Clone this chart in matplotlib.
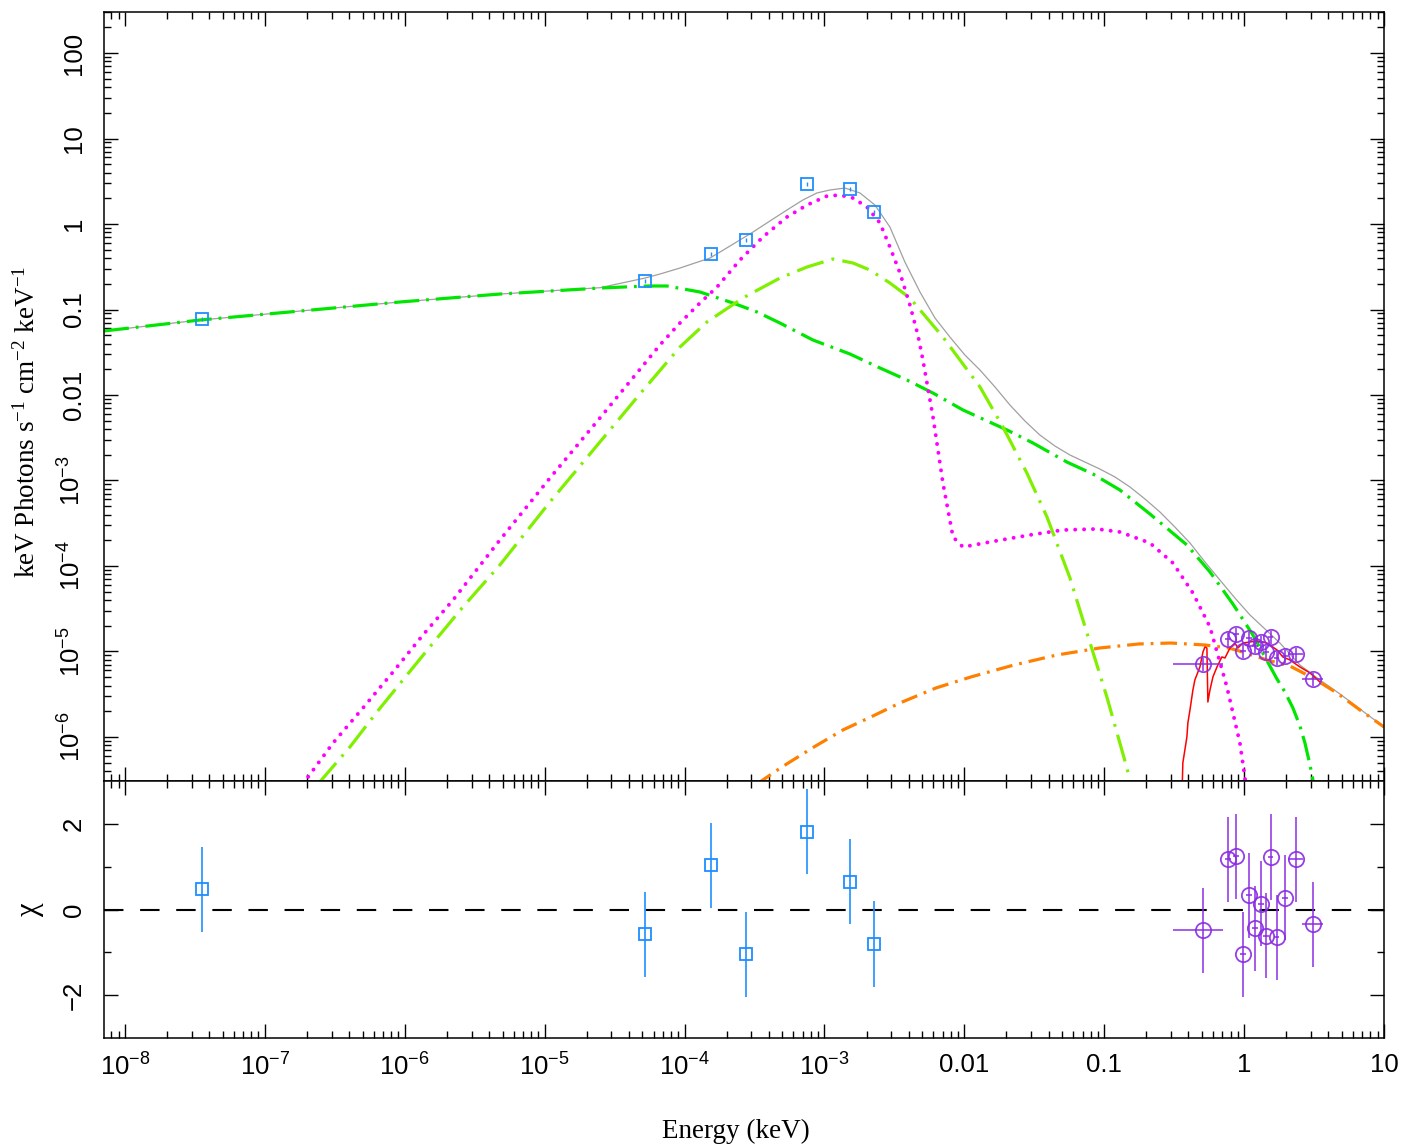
import numpy as np
import matplotlib
matplotlib.use("Agg")
import matplotlib.pyplot as plt
from matplotlib.ticker import FixedLocator, FixedFormatter, LogLocator, NullFormatter

plt.rcParams['font.family'] = ['Liberation Sans', 'DejaVu Sans']
plt.rcParams['mathtext.default'] = 'regular'
plt.rcParams['lines.scale_dashes'] = False

# ---- data ----
# UV/optical points (keV, keV Photons s^-1 cm^-2 keV^-1) and chi residuals
uv_E = [3.55e-8, 5.21e-5, 1.55e-4, 2.75e-4, 7.50e-4, 1.52e-3, 2.26e-3]
uv_F = [0.0774, 0.215, 0.446, 0.65, 2.94, 2.57, 1.38]
uv_chi = [0.47, -0.58, 1.03, -1.05, 1.82, 0.65, -0.80]

# X-ray points
xr_E = [0.507, 0.766, 0.873, 0.98, 1.08, 1.19, 1.32, 1.43, 1.55, 1.71, 1.96, 2.35, 3.10]
xr_F = [7.14e-6, 1.40e-5, 1.60e-5, 1.01e-5, 1.44e-5, 1.16e-5, 1.29e-5,
        9.9e-6, 1.48e-5, 8.4e-6, 8.9e-6, 9.35e-6, 4.77e-6]
xr_lo = [0.197, 0.04, 0.04, 0.05, 0.05, 0.06, 0.06, 0.07, 0.07, 0.08, 0.10, 0.29, 0.51]
xr_hi = [0.198, 0.04, 0.04, 0.05, 0.05, 0.06, 0.06, 0.07, 0.07, 0.08, 0.10, 0.28, 0.56]
xr_chi = [-0.49, 1.17, 1.24, -1.05, 0.33, -0.44, 0.14, -0.61, 1.22, -0.65, 0.28, 1.17, -0.35]

# model components, log10(E) and log10(flux)
total_logE = [-8.150, -7.464, -6.749, -6.034, -5.320, -4.605, -4.283, -4.176, -4.033, -3.926,
              -3.818, -3.675, -3.511, -3.390, -3.268, -3.154, -3.054, -2.961, -2.853, -2.746,
              -2.639, -2.532, -2.425, -2.317, -2.210, -2.103, -1.996, -1.888, -1.781, -1.674,
              -1.567, -1.460, -1.352, -1.245, -1.138, -1.031, -0.923, -0.816, -0.709, -0.602,
              -0.495, -0.387, -0.280, -0.173, -0.066, 0.042, 0.149, 0.256, 0.399, 0.542,
              0.685, 0.828, 1.000]
total_logF = [-1.251, -1.123, -1.018, -0.912, -0.819, -0.745, -0.632, -0.585, -0.515, -0.456,
              -0.398, -0.257, -0.094, 0.035, 0.164, 0.281, 0.363, 0.398, 0.421, 0.363,
              0.222, -0.035, -0.444, -0.795, -1.099, -1.322, -1.532, -1.708, -1.906, -2.117,
              -2.304, -2.468, -2.597, -2.702, -2.784, -2.866, -2.959, -3.076, -3.216, -3.368,
              -3.544, -3.731, -3.953, -4.164, -4.374, -4.573, -4.737, -4.901, -5.158, -5.333,
              -5.497, -5.673, -5.883]

jet_logE = [-8.150, -7.464, -6.749, -6.034, -5.320, -4.605, -4.269, -4.126, -3.890, -3.654,
            -3.482, -3.318, -3.082, -2.818, -2.603, -2.410, -2.224, -2.010, -1.695, -1.510,
            -1.267, -1.081, -0.888, -0.673, -0.409, -0.244, -0.080, 0.063, 0.235, 0.292,
            0.349, 0.399, 0.435, 0.471, 0.499]
jet_logF = [-1.251, -1.123, -1.018, -0.912, -0.819, -0.749, -0.725, -0.725, -0.795, -0.924,
            -1.029, -1.158, -1.357, -1.520, -1.684, -1.825, -1.977, -2.175, -2.409, -2.561,
            -2.784, -2.924, -3.111, -3.392, -3.754, -4.070, -4.445, -4.807, -5.322, -5.474,
            -5.661, -5.871, -6.071, -6.328, -6.561]

bb_logE = [-6.620, -6.392, -6.199, -6.013, -5.798, -5.584, -5.320, -4.962, -4.605, -4.319,
           -4.033, -3.840, -3.583, -3.318, -3.125, -2.939, -2.796, -2.675, -2.532, -2.389,
           -2.153, -1.888, -1.724, -1.553, -1.409, -1.245, -1.152, -0.981, -0.838, -0.809]
bb_logF = [-6.550, -6.117, -5.708, -5.333, -4.901, -4.479, -3.988, -3.251, -2.550, -1.988,
           -1.439, -1.146, -0.865, -0.632, -0.503, -0.409, -0.456, -0.538, -0.690, -0.865,
           -1.322, -1.906, -2.374, -2.912, -3.427, -4.140, -4.632, -5.532, -6.362, -6.561]

disk_logE = [-6.728, -6.513, -6.299, -6.084, -5.870, -5.655, -5.320, -4.962, -4.605, -4.176,
             -4.033, -3.890, -3.768, -3.604, -3.440, -3.268, -3.125, -2.982, -2.889, -2.796,
             -2.696, -2.603, -2.532, -2.460, -2.389, -2.332, -2.296, -2.224, -2.153, -2.081,
             -2.010, -1.817, -1.531, -1.295, -1.052, -0.888, -0.673, -0.509, -0.366, -0.244,
             -0.123, -0.030, 0.013]
disk_logF = [-6.550, -6.071, -5.661, -5.240, -4.807, -4.398, -3.696, -2.971, -2.269, -1.415,
             -1.158, -0.924, -0.737, -0.421, -0.152, 0.082, 0.222, 0.327, 0.339, 0.304,
             0.199, 0.012, -0.269, -0.573, -0.947, -1.298, -1.591, -2.257, -3.029, -3.661,
             -3.778, -3.719, -3.637, -3.579, -3.567, -3.602, -3.731, -3.965, -4.316, -4.713,
             -5.415, -6.071, -6.561]

pl_logE = [-3.482, -3.304, -3.075, -2.868, -2.668, -2.460, -2.203, -1.953, -1.645, -1.338,
           -1.031, -0.752, -0.523, -0.280, -0.109, -0.009, 0.163, 0.327, 0.492, 0.663,
           0.828, 1.000]
pl_logF = [-6.550, -6.351, -6.117, -5.918, -5.766, -5.602, -5.427, -5.298, -5.158, -5.041,
           -4.959, -4.912, -4.901, -4.924, -4.959, -5.006, -5.099, -5.170, -5.310, -5.485,
           -5.684, -5.883]

fold_logE = [-0.445, -0.438, -0.409, -0.402, -0.387, -0.366, -0.352, -0.316, -0.294, -0.280,
             -0.266, -0.259, -0.244, -0.223, -0.194, -0.159, -0.137, -0.101, -0.066, -0.044,
             -0.009, 0.041, 0.091, 0.163, 0.235, 0.277, 0.327, 0.399, 0.471, 0.542]
fold_logF = [-6.737, -6.304, -6.000, -5.836, -5.684, -5.450, -5.333, -5.181, -5.006, -4.947,
             -4.959, -5.591, -5.450, -5.298, -5.181, -5.064, -5.076, -4.959, -4.901, -4.959,
             -4.901, -4.889, -4.877, -4.901, -4.982, -5.064, -5.099, -5.181, -5.251, -5.357]

x_ticks = [1e-8, 1e-7, 1e-6, 1e-5, 1e-4, 1e-3, 1e-2, 1e-1, 1, 10]
x_labels = [r'$10^{-8}$', r'$10^{-7}$', r'$10^{-6}$', r'$10^{-5}$', r'$10^{-4}$',
            r'$10^{-3}$', '0.01', '0.1', '1', '10']
y_ticks = [1e-6, 1e-5, 1e-4, 1e-3, 1e-2, 1e-1, 1, 10, 100]
y_labels = [r'$10^{-6}$', r'$10^{-5}$', r'$10^{-4}$', r'$10^{-3}$', '0.01', '0.1', '1', '10', '100']
chi_ticks = [-2, 0, 2]
chi_labels = ['\u22122', '0', '2']

blue = '#1e8fff'
purple = '#8a2be2'

fig = plt.figure(figsize=(14.04, 11.47), dpi=100)
ax = fig.add_axes([104 / 1404, 1 - 781 / 1147, 1280 / 1404, 769 / 1147])
axr = fig.add_axes([104 / 1404, 1 - 1038 / 1147, 1280 / 1404, 257 / 1147], sharex=ax)


def pw(a):
    return 10 ** np.asarray(a)


# model components
ax.plot(pw(total_logE), pw(total_logF), color='#a0a0a0', lw=0.9)
ax.plot(pw(jet_logE), pw(jet_logF), color='#00e600', lw=2.3, dashes=(18, 5, 2, 5))
ax.plot(pw(bb_logE), pw(bb_logF), color='#80f000', lw=2.3, dashes=(20, 6, 2, 6))
ax.plot(pw(disk_logE), pw(disk_logF), color='#ff00ff', lw=2.8, dashes=(0.1, 6.3),
        dash_capstyle='round')
ax.plot(pw(pl_logE), pw(pl_logF), color='#ff8000', lw=2.3, dashes=(12, 5, 2, 5))
ax.plot(pw(fold_logE), pw(fold_logF), color='#ff0000', lw=1.1)

# data
uv_F = np.array(uv_F)
xr_F = np.array(xr_F)
ax.errorbar(uv_E, uv_F, yerr=uv_F * 0.06, fmt='s', ms=8.5, mfc='none', mec=blue, mew=1.3,
            ecolor=blue, elinewidth=1, capsize=0)
ax.errorbar(xr_E, xr_F, xerr=[xr_lo, xr_hi], yerr=xr_F * 0.18, fmt='o', ms=11, mfc='none',
            mec=purple, mew=1.3, ecolor=purple, elinewidth=1.2, capsize=0, alpha=0.9)

axr.axhline(0, color='black', lw=1.5, dashes=(14, 12))
axr.errorbar(uv_E, uv_chi, yerr=1, fmt='s', ms=8.5, mfc='none', mec=blue, mew=1.3,
             ecolor=blue, elinewidth=1.2, capsize=0)
axr.errorbar(xr_E, xr_chi, xerr=[xr_lo, xr_hi], yerr=1, fmt='o', ms=11, mfc='none',
             mec=purple, mew=1.3, ecolor=purple, elinewidth=1.2, capsize=0, alpha=0.9)

# axes
for a in (ax, axr):
    a.set_xscale('log')
    a.set_xlim(10 ** -8.15, 10)
    a.xaxis.set_major_locator(FixedLocator(x_ticks))
    a.xaxis.set_minor_locator(LogLocator(base=10, subs=np.arange(2, 10), numticks=100))
    a.tick_params(which='both', direction='in', top=True, right=True, width=1, color='black')
    a.tick_params(which='major', length=10)
    a.tick_params(which='minor', length=5)
    a.tick_params(axis='y', labelrotation=90, labelsize=18.5, pad=13)
    a.tick_params(axis='x', labelsize=18.5, pad=11)
    for s in a.spines.values():
        s.set_linewidth(1.1)

ax.set_yscale('log')
ax.set_ylim(10 ** -6.515, 10 ** 2.48)
ax.yaxis.set_major_locator(FixedLocator(y_ticks))
ax.yaxis.set_major_formatter(FixedFormatter(y_labels))
ax.yaxis.set_minor_locator(LogLocator(base=10, subs=np.arange(2, 10), numticks=100))
ax.yaxis.set_minor_formatter(NullFormatter())
ax.tick_params(axis='x', labelbottom=False)

axr.set_ylim(-3, 3)
axr.yaxis.set_major_locator(FixedLocator(chi_ticks))
axr.yaxis.set_major_formatter(FixedFormatter(chi_labels))
axr.yaxis.set_minor_locator(FixedLocator([-1, 1]))
axr.xaxis.set_major_formatter(FixedFormatter(x_labels))
axr.xaxis.set_minor_formatter(NullFormatter())

for a in (ax, axr):
    for lab in a.get_yticklabels():
        lab.set_verticalalignment('center')

serif = ['Liberation Serif', 'DejaVu Serif']
fig.text(736 / 1404, 1 - 1131 / 1147, 'Energy (keV)', family=serif, fontsize=19.5,
         ha='center', va='center')
fig.text(27 / 1404, 1 - 422 / 1147, r'keV Photons s$^{-1}$ cm$^{-2}$ keV$^{-1}$',
         family=serif, fontsize=19.5, rotation=90, ha='center', va='center')
fig.text(30 / 1404, 1 - 909 / 1147, '\u03c7', family=serif, fontsize=22, rotation=90,
         ha='center', va='center')

fig.savefig('out.png', dpi=100)
